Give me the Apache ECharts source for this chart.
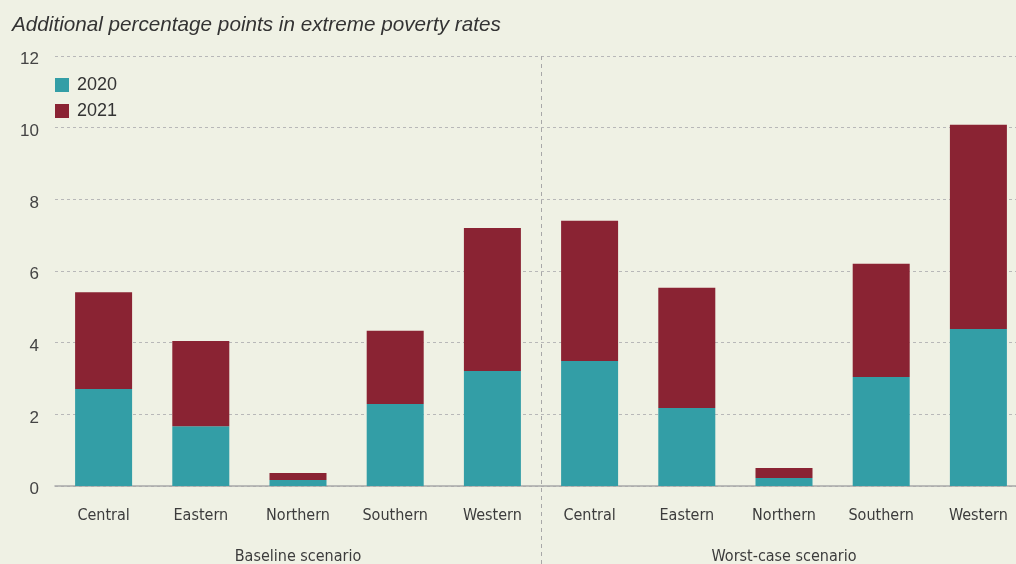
<!DOCTYPE html>
<html>
<head>
<meta charset="utf-8">
<script src="https://cdn.jsdelivr.net/npm/echarts@6/dist/echarts.min.js"></script>
<style>
    html, body { margin: 0; padding: 0; background: #eff1e4; }
    #chart { width: 1016px; height: 564px; }
</style>
</head>
<body>
<div id="chart"></div>
<script>
var regions = ['Central', 'Eastern', 'Northern', 'Southern', 'Western'];
var scenarios = ['Baseline scenario', 'Worst-case scenario'];
// 2020 share, then the extra 2021 share stacked on top
var base2020 = [2.71, 1.67, 0.17, 2.29, 3.21];
var base2021 = [2.70, 2.38, 0.19, 2.04, 3.99];
var worst2020 = [3.49, 2.18, 0.22, 3.04, 4.38];
var worst2021 = [3.91, 3.35, 0.28, 3.16, 5.70];
var yTicks = [0, 2, 4, 6, 8, 10, 12];

var narrow = '"Liberation Sans Narrow", "DejaVu Sans Condensed", sans-serif';
var plain = '"Liberation Sans", Arial, sans-serif';

var renderChart = function (id) {
    var chart = echarts.init(document.getElementById(id));
    var cats = regions.concat(regions);
    var option = {
        backgroundColor: '#eff1e4',
        animation: false,
        color: ['#339ea6', '#8a2333'],
        title: {
            text: 'Additional percentage points in extreme poverty rates',
            left: 12,
            top: 15,
            padding: 0,
            textStyle: {
                fontFamily: plain,
                fontStyle: 'italic',
                fontWeight: 'normal',
                fontSize: 20.7,
                color: '#333'
            }
        },
        legend: {
            orient: 'vertical',
            left: 55,
            top: 76,
            padding: 0,
            itemWidth: 14,
            itemHeight: 14,
            itemGap: 8,
            icon: 'rect',
            textStyle: {
                fontFamily: plain,
                fontSize: 18,
                color: '#333',
                padding: [0, 0, 0, 3]
            },
            data: ['2020', '2021']
        },
        grid: {
            left: 55,
            top: 56,
            width: 972,
            bottom: 78,
            outerBoundsMode: 'none',
            containLabel: false
        },
        xAxis: [{
            type: 'category',
            data: cats,
            position: 'bottom',
            axisLine: { show: true, lineStyle: { color: '#a8a8a8', width: 1.5 } },
            axisTick: { show: false },
            axisLabel: {
                interval: 0,
                margin: 22,
                fontFamily: narrow,
                fontSize: 16,
                color: '#3c3c3c'
            }
        }, {
            type: 'category',
            data: scenarios,
            position: 'bottom',
            axisLine: { show: false },
            axisTick: { show: false },
            axisLabel: {
                interval: 0,
                margin: 63,
                fontFamily: narrow,
                fontSize: 16,
                color: '#3c3c3c'
            }
        }],
        yAxis: {
            type: 'value',
            min: yTicks[0],
            max: yTicks[yTicks.length - 1],
            interval: yTicks[1] - yTicks[0],
            axisLine: { show: false },
            axisTick: { show: false },
            splitLine: {
                lineStyle: { color: '#b8b8b8', type: [3, 3], width: 1 }
            },
            axisLabel: {
                margin: 16,
                formatter: '{v|{value}}',
                rich: {
                    v: {
                        padding: [7, 0, 0, 0],
                        fontFamily: plain,
                        fontSize: 17,
                        color: '#444'
                    }
                }
            }
        },
        series: [{
            name: '2020',
            type: 'bar',
            stack: 'total',
            barWidth: 57,
            data: base2020.concat(worst2020)
        }, {
            name: '2021',
            type: 'bar',
            stack: 'total',
            barWidth: 57,
            data: base2021.concat(worst2021)
        }]
    };
    chart.setOption(option);

    // dashed divider between the two scenarios
    var x = (chart.convertToPixel({ xAxisIndex: 0 }, regions.length - 1) +
        chart.convertToPixel({ xAxisIndex: 0 }, regions.length)) / 2;
    var top = chart.convertToPixel({ yAxisIndex: 0 }, yTicks[yTicks.length - 1]);
    chart.setOption({
        graphic: [{
            type: 'line',
            shape: { x1: Math.round(x) + 0.5, y1: top, x2: Math.round(x) + 0.5, y2: 564 },
            style: { stroke: '#a8a8a8', lineWidth: 1, lineDash: [4, 4] },
            silent: true
        }]
    });
    return chart;
};

renderChart('chart');
</script>
</body>
</html>
